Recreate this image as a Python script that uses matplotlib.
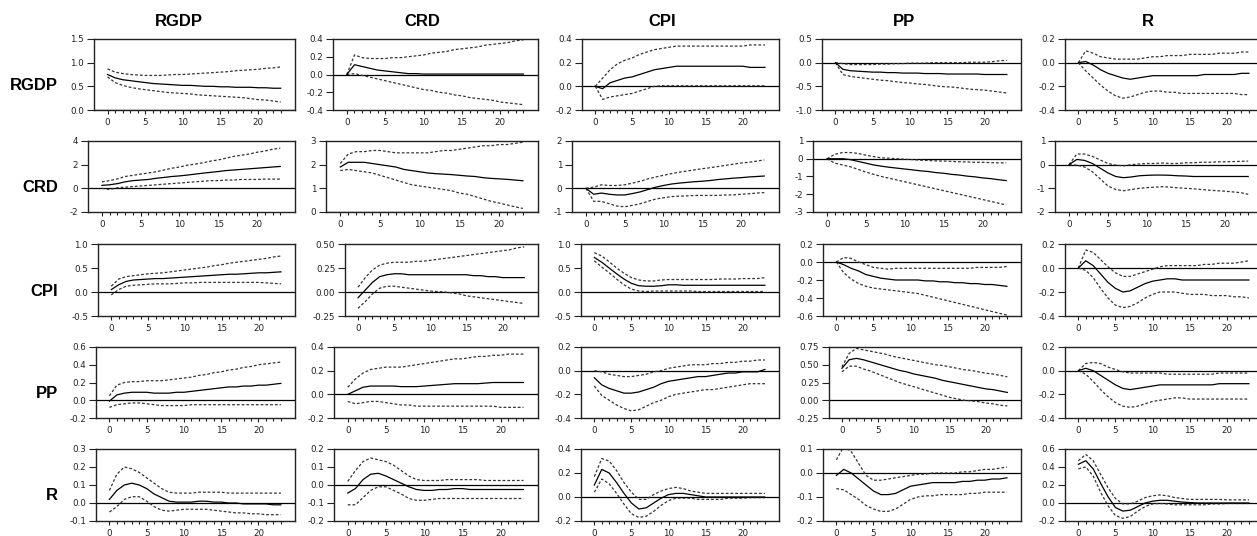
import matplotlib.pyplot as plt

periods = list(range(24))
variables = ["RGDP", "CRD", "CPI", "PP", "R"]

# ---- responses of RGDP ----
rgdp_rgdp = [0.75, 0.68, 0.64, 0.62, 0.60, 0.58, 0.56, 0.55, 0.54, 0.53, 0.52, 0.52,
             0.51, 0.50, 0.50, 0.49, 0.49, 0.48, 0.48, 0.48, 0.47, 0.47, 0.46, 0.46]
rgdp_rgdp_hi = [0.87, 0.80, 0.77, 0.75, 0.74, 0.73, 0.73, 0.73, 0.74, 0.75, 0.75, 0.76,
                0.77, 0.78, 0.79, 0.80, 0.81, 0.83, 0.84, 0.85, 0.86, 0.88, 0.89, 0.91]
rgdp_rgdp_lo = [0.70, 0.58, 0.52, 0.48, 0.45, 0.43, 0.41, 0.39, 0.37, 0.36, 0.35, 0.34,
                0.32, 0.31, 0.30, 0.29, 0.28, 0.27, 0.26, 0.24, 0.22, 0.21, 0.19, 0.17]

rgdp_crd = [0.0, 0.11, 0.09, 0.07, 0.05, 0.04, 0.03, 0.02, 0.01, 0.01, 0.005, 0.005,
            0.005, 0.005, 0.005, 0.005, 0.005, 0.005, 0.005, 0.005, 0.005, 0.005, 0.005, 0.005]
rgdp_crd_hi = [0.0, 0.22, 0.19, 0.18, 0.18, 0.18, 0.19, 0.19, 0.20, 0.21, 0.22, 0.24,
               0.25, 0.26, 0.28, 0.29, 0.30, 0.31, 0.33, 0.34, 0.35, 0.36, 0.38, 0.39]
rgdp_crd_lo = [0.0, 0.01, -0.01, -0.03, -0.05, -0.07, -0.09, -0.11, -0.13, -0.15, -0.17, -0.18,
               -0.20, -0.21, -0.23, -0.24, -0.26, -0.27, -0.28, -0.29, -0.31, -0.32, -0.33, -0.34]

rgdp_cpi = [0.0, -0.02, 0.03, 0.05, 0.07, 0.08, 0.10, 0.12, 0.14, 0.15, 0.16, 0.17,
            0.17, 0.17, 0.17, 0.17, 0.17, 0.17, 0.17, 0.17, 0.17, 0.16, 0.16, 0.16]
rgdp_cpi_hi = [0.0, 0.07, 0.14, 0.19, 0.22, 0.24, 0.27, 0.29, 0.31, 0.32, 0.33, 0.34,
               0.34, 0.34, 0.34, 0.34, 0.34, 0.34, 0.34, 0.34, 0.34, 0.35, 0.35, 0.35]
rgdp_cpi_lo = [0.0, -0.11, -0.09, -0.08, -0.07, -0.06, -0.04, -0.02, 0.0, 0.005, 0.005, 0.005,
               0.005, 0.005, 0.005, 0.005, 0.005, 0.005, 0.005, 0.005, 0.005, 0.005, 0.005, 0.005]

rgdp_pp = [0.0, -0.14, -0.17, -0.18, -0.19, -0.20, -0.20, -0.21, -0.21, -0.22, -0.22, -0.22,
           -0.23, -0.23, -0.23, -0.24, -0.24, -0.24, -0.24, -0.24, -0.25, -0.25, -0.25, -0.25]
rgdp_pp_hi = [0.0, -0.02, -0.04, -0.04, -0.04, -0.04, -0.03, -0.03, -0.02, -0.02, -0.01, -0.01,
              -0.01, 0.0, 0.0, 0.0, 0.0, 0.0, 0.01, 0.01, 0.01, 0.02, 0.04, 0.05]
rgdp_pp_lo = [0.0, -0.25, -0.29, -0.31, -0.33, -0.35, -0.37, -0.38, -0.40, -0.42, -0.43, -0.45,
              -0.46, -0.48, -0.50, -0.51, -0.52, -0.54, -0.56, -0.57, -0.58, -0.60, -0.62, -0.64]

rgdp_r = [0.0, 0.01, -0.02, -0.06, -0.09, -0.11, -0.13, -0.14, -0.13, -0.12, -0.11, -0.11,
          -0.11, -0.11, -0.11, -0.11, -0.11, -0.10, -0.10, -0.10, -0.10, -0.10, -0.09, -0.09]
rgdp_r_hi = [0.0, 0.10, 0.08, 0.05, 0.04, 0.03, 0.03, 0.03, 0.03, 0.04, 0.05, 0.05,
             0.06, 0.06, 0.06, 0.07, 0.07, 0.07, 0.07, 0.08, 0.08, 0.08, 0.09, 0.09]
rgdp_r_lo = [0.0, -0.07, -0.13, -0.19, -0.24, -0.28, -0.30, -0.29, -0.27, -0.25, -0.24, -0.24,
             -0.25, -0.25, -0.26, -0.26, -0.26, -0.26, -0.26, -0.26, -0.26, -0.26, -0.27, -0.27]

# ---- responses of CRD ----
crd_rgdp = [0.25, 0.30, 0.40, 0.55, 0.65, 0.70, 0.75, 0.85, 0.92, 1.00, 1.05, 1.12,
            1.20, 1.28, 1.35, 1.42, 1.50, 1.55, 1.60, 1.65, 1.70, 1.75, 1.80, 1.85]
crd_rgdp_hi = [0.55, 0.65, 0.80, 1.00, 1.10, 1.20, 1.30, 1.40, 1.55, 1.70, 1.80, 1.95,
               2.05, 2.15, 2.30, 2.40, 2.55, 2.70, 2.80, 2.90, 3.05, 3.15, 3.30, 3.40]
crd_rgdp_lo = [0.0, -0.10, 0.05, 0.10, 0.15, 0.20, 0.25, 0.30, 0.35, 0.40, 0.45, 0.50,
               0.55, 0.60, 0.65, 0.65, 0.70, 0.70, 0.75, 0.75, 0.75, 0.78, 0.78, 0.78]

crd_crd = [1.90, 2.10, 2.10, 2.10, 2.05, 2.00, 1.95, 1.90, 1.80, 1.75, 1.70, 1.65,
           1.62, 1.60, 1.58, 1.55, 1.52, 1.50, 1.45, 1.42, 1.40, 1.38, 1.35, 1.32]
crd_crd_hi = [2.05, 2.45, 2.55, 2.55, 2.60, 2.60, 2.55, 2.50, 2.50, 2.50, 2.50, 2.50,
              2.55, 2.60, 2.60, 2.65, 2.70, 2.75, 2.80, 2.80, 2.85, 2.85, 2.90, 2.95]
crd_crd_lo = [1.75, 1.80, 1.75, 1.70, 1.65, 1.55, 1.45, 1.35, 1.25, 1.15, 1.10, 1.05,
              1.00, 0.95, 0.90, 0.80, 0.75, 0.65, 0.55, 0.45, 0.38, 0.30, 0.22, 0.15]

crd_cpi = [0.0, -0.25, -0.20, -0.25, -0.28, -0.28, -0.22, -0.15, -0.05, 0.05, 0.12, 0.18,
           0.22, 0.25, 0.28, 0.30, 0.33, 0.37, 0.40, 0.43, 0.45, 0.48, 0.50, 0.52]
crd_cpi_hi = [0.0, 0.05, 0.15, 0.12, 0.12, 0.15, 0.22, 0.30, 0.40, 0.48, 0.55, 0.62,
              0.68, 0.73, 0.78, 0.83, 0.87, 0.92, 0.97, 1.02, 1.07, 1.10, 1.15, 1.20]
crd_cpi_lo = [0.0, -0.55, -0.55, -0.65, -0.75, -0.78, -0.72, -0.65, -0.55, -0.45, -0.40, -0.35,
              -0.33, -0.32, -0.30, -0.30, -0.30, -0.30, -0.28, -0.28, -0.25, -0.23, -0.20, -0.18]

crd_pp = [0.0, 0.0, 0.0, -0.05, -0.15, -0.25, -0.35, -0.42, -0.48, -0.53, -0.58, -0.63,
          -0.68, -0.72, -0.78, -0.82, -0.88, -0.92, -0.98, -1.02, -1.08, -1.12, -1.18, -1.23]
crd_pp_hi = [0.0, 0.25, 0.35, 0.35, 0.30, 0.20, 0.12, 0.05, 0.03, 0.0, -0.03, -0.05,
             -0.08, -0.10, -0.12, -0.13, -0.15, -0.17, -0.18, -0.20, -0.20, -0.22, -0.23, -0.23]
crd_pp_lo = [0.0, -0.25, -0.35, -0.45, -0.60, -0.75, -0.88, -1.00, -1.10, -1.20, -1.30, -1.40,
             -1.50, -1.60, -1.70, -1.80, -1.90, -2.00, -2.10, -2.20, -2.30, -2.40, -2.50, -2.60]

crd_r = [0.0, 0.22, 0.18, 0.05, -0.15, -0.35, -0.50, -0.55, -0.52, -0.47, -0.45, -0.44,
         -0.44, -0.45, -0.47, -0.48, -0.50, -0.50, -0.50, -0.50, -0.50, -0.50, -0.50, -0.50]
crd_r_hi = [0.0, 0.45, 0.45, 0.35, 0.20, 0.05, -0.02, -0.05, 0.0, 0.03, 0.05, 0.05,
            0.07, 0.05, 0.05, 0.08, 0.08, 0.10, 0.10, 0.12, 0.12, 0.13, 0.14, 0.15]
crd_r_lo = [0.0, -0.02, -0.10, -0.30, -0.60, -0.90, -1.05, -1.10, -1.05, -1.00, -0.97, -0.95,
            -0.93, -0.95, -0.98, -1.00, -1.02, -1.05, -1.08, -1.10, -1.12, -1.15, -1.18, -1.25]

# ---- responses of CPI ----
cpi_rgdp = [0.05, 0.15, 0.22, 0.25, 0.26, 0.27, 0.28, 0.28, 0.29, 0.30, 0.31, 0.32,
            0.33, 0.34, 0.35, 0.36, 0.37, 0.37, 0.38, 0.39, 0.40, 0.40, 0.41, 0.42]
cpi_rgdp_hi = [0.12, 0.27, 0.32, 0.34, 0.36, 0.38, 0.39, 0.40, 0.42, 0.44, 0.46, 0.48,
               0.50, 0.52, 0.55, 0.57, 0.60, 0.62, 0.64, 0.66, 0.68, 0.70, 0.73, 0.75]
cpi_rgdp_lo = [-0.06, 0.05, 0.12, 0.14, 0.15, 0.16, 0.17, 0.17, 0.17, 0.18, 0.19, 0.19,
               0.20, 0.20, 0.20, 0.20, 0.20, 0.20, 0.20, 0.20, 0.20, 0.19, 0.18, 0.17]

cpi_crd = [-0.06, 0.02, 0.10, 0.16, 0.18, 0.19, 0.19, 0.18, 0.18, 0.18, 0.18, 0.18,
           0.18, 0.18, 0.18, 0.18, 0.17, 0.17, 0.16, 0.16, 0.15, 0.15, 0.15, 0.15]
cpi_crd_hi = [0.05, 0.15, 0.23, 0.28, 0.30, 0.31, 0.31, 0.31, 0.32, 0.32, 0.33, 0.34,
              0.35, 0.36, 0.37, 0.38, 0.39, 0.40, 0.41, 0.42, 0.43, 0.44, 0.46, 0.47]
cpi_crd_lo = [-0.17, -0.10, -0.02, 0.04, 0.06, 0.06, 0.05, 0.04, 0.03, 0.02, 0.01, 0.005,
              0.0, -0.01, -0.02, -0.04, -0.05, -0.06, -0.07, -0.08, -0.09, -0.10, -0.11, -0.12]

cpi_cpi = [0.72, 0.62, 0.50, 0.38, 0.27, 0.18, 0.13, 0.12, 0.12, 0.13, 0.15, 0.15,
           0.14, 0.14, 0.14, 0.14, 0.14, 0.14, 0.14, 0.14, 0.14, 0.14, 0.14, 0.14]
cpi_cpi_hi = [0.82, 0.75, 0.63, 0.50, 0.39, 0.30, 0.25, 0.23, 0.23, 0.25, 0.26, 0.26,
              0.26, 0.26, 0.26, 0.26, 0.26, 0.27, 0.27, 0.27, 0.28, 0.28, 0.28, 0.30]
cpi_cpi_lo = [0.65, 0.52, 0.40, 0.27, 0.15, 0.06, 0.02, 0.01, 0.02, 0.02, 0.02, 0.02,
              0.02, 0.02, 0.01, 0.01, 0.01, 0.01, 0.01, 0.01, 0.01, 0.01, 0.01, 0.01]

cpi_pp = [0.0, -0.03, -0.07, -0.10, -0.14, -0.16, -0.18, -0.19, -0.20, -0.20, -0.20, -0.20,
          -0.21, -0.21, -0.22, -0.22, -0.23, -0.23, -0.24, -0.24, -0.25, -0.25, -0.26, -0.27]
cpi_pp_hi = [0.0, 0.05, 0.04, 0.0, -0.03, -0.06, -0.07, -0.08, -0.07, -0.07, -0.07, -0.07,
             -0.07, -0.07, -0.07, -0.07, -0.07, -0.07, -0.07, -0.06, -0.06, -0.06, -0.06, -0.05]
cpi_pp_lo = [0.0, -0.12, -0.19, -0.24, -0.27, -0.29, -0.30, -0.31, -0.32, -0.33, -0.34, -0.35,
             -0.37, -0.39, -0.41, -0.43, -0.45, -0.47, -0.49, -0.51, -0.53, -0.55, -0.57, -0.59]

cpi_r = [0.0, 0.06, 0.02, -0.05, -0.12, -0.17, -0.20, -0.19, -0.16, -0.13, -0.11, -0.10,
         -0.09, -0.09, -0.10, -0.10, -0.10, -0.10, -0.10, -0.10, -0.10, -0.10, -0.10, -0.10]
cpi_r_hi = [0.0, 0.15, 0.13, 0.07, 0.01, -0.04, -0.07, -0.07, -0.05, -0.03, -0.01, 0.01,
            0.02, 0.02, 0.02, 0.02, 0.02, 0.03, 0.03, 0.04, 0.04, 0.04, 0.05, 0.06]
cpi_r_lo = [0.0, -0.02, -0.08, -0.17, -0.25, -0.31, -0.33, -0.32, -0.29, -0.25, -0.22, -0.20,
            -0.20, -0.20, -0.21, -0.22, -0.22, -0.22, -0.23, -0.23, -0.23, -0.24, -0.24, -0.25]

# ---- responses of PP ----
pp_rgdp = [-0.01, 0.06, 0.08, 0.09, 0.09, 0.09, 0.08, 0.08, 0.08, 0.09, 0.09, 0.10,
           0.11, 0.12, 0.13, 0.14, 0.15, 0.15, 0.16, 0.16, 0.17, 0.17, 0.18, 0.19]
pp_rgdp_hi = [0.05, 0.17, 0.20, 0.21, 0.21, 0.22, 0.22, 0.22, 0.23, 0.24, 0.25, 0.26,
              0.28, 0.29, 0.31, 0.32, 0.34, 0.35, 0.37, 0.38, 0.40, 0.41, 0.42, 0.43]
pp_rgdp_lo = [-0.08, -0.05, -0.04, -0.03, -0.03, -0.04, -0.05, -0.06, -0.06, -0.06, -0.06, -0.05,
              -0.05, -0.05, -0.05, -0.05, -0.05, -0.05, -0.05, -0.05, -0.05, -0.05, -0.05, -0.05]

pp_crd = [0.0, 0.03, 0.06, 0.07, 0.07, 0.07, 0.07, 0.065, 0.065, 0.065, 0.07, 0.075,
          0.08, 0.085, 0.09, 0.09, 0.09, 0.09, 0.095, 0.10, 0.10, 0.10, 0.10, 0.10]
pp_crd_hi = [0.06, 0.13, 0.18, 0.21, 0.22, 0.23, 0.23, 0.23, 0.24, 0.25, 0.26, 0.27,
             0.28, 0.29, 0.30, 0.30, 0.31, 0.32, 0.32, 0.33, 0.33, 0.34, 0.34, 0.34]
pp_crd_lo = [-0.06, -0.08, -0.07, -0.06, -0.06, -0.07, -0.08, -0.09, -0.09, -0.10, -0.10, -0.10,
             -0.10, -0.10, -0.10, -0.10, -0.10, -0.10, -0.10, -0.10, -0.11, -0.11, -0.11, -0.11]

pp_cpi = [-0.06, -0.12, -0.15, -0.17, -0.19, -0.19, -0.18, -0.16, -0.14, -0.11, -0.09, -0.08,
          -0.07, -0.06, -0.05, -0.05, -0.04, -0.03, -0.02, -0.02, -0.01, -0.01, -0.01, 0.01]
pp_cpi_hi = [0.0, -0.01, -0.03, -0.04, -0.05, -0.05, -0.04, -0.03, -0.01, 0.0, 0.02, 0.03,
             0.04, 0.05, 0.05, 0.05, 0.06, 0.06, 0.07, 0.07, 0.08, 0.08, 0.09, 0.09]
pp_cpi_lo = [-0.13, -0.21, -0.25, -0.29, -0.32, -0.34, -0.33, -0.30, -0.27, -0.25, -0.22, -0.20,
             -0.19, -0.18, -0.17, -0.16, -0.16, -0.15, -0.14, -0.13, -0.12, -0.11, -0.11, -0.11]

pp_pp = [0.45, 0.57, 0.59, 0.57, 0.54, 0.51, 0.48, 0.45, 0.42, 0.40, 0.37, 0.35,
         0.33, 0.31, 0.28, 0.26, 0.24, 0.22, 0.20, 0.18, 0.16, 0.15, 0.13, 0.11]
pp_pp_hi = [0.47, 0.66, 0.73, 0.71, 0.69, 0.67, 0.65, 0.62, 0.60, 0.58, 0.56, 0.54,
            0.52, 0.50, 0.49, 0.47, 0.45, 0.43, 0.42, 0.40, 0.38, 0.37, 0.35, 0.33]
pp_pp_lo = [0.40, 0.48, 0.48, 0.44, 0.41, 0.37, 0.33, 0.29, 0.25, 0.22, 0.19, 0.16,
            0.13, 0.10, 0.07, 0.04, 0.02, 0.0, -0.01, -0.02, -0.04, -0.05, -0.07, -0.08]

pp_r = [0.0, 0.02, 0.0, -0.04, -0.08, -0.12, -0.15, -0.16, -0.15, -0.14, -0.13, -0.12,
        -0.12, -0.12, -0.12, -0.12, -0.12, -0.12, -0.12, -0.11, -0.11, -0.11, -0.11, -0.11]
pp_r_hi = [0.0, 0.06, 0.07, 0.06, 0.03, 0.01, -0.01, -0.02, -0.02, -0.02, -0.02, -0.02,
           -0.03, -0.03, -0.03, -0.03, -0.03, -0.03, -0.03, -0.02, -0.02, -0.02, -0.02, -0.02]
pp_r_lo = [0.0, -0.03, -0.09, -0.16, -0.22, -0.27, -0.30, -0.31, -0.30, -0.28, -0.26, -0.25,
           -0.24, -0.23, -0.23, -0.24, -0.24, -0.24, -0.24, -0.24, -0.24, -0.24, -0.24, -0.24]

# ---- responses of R ----
r_rgdp = [0.02, 0.07, 0.10, 0.11, 0.10, 0.08, 0.05, 0.03, 0.01, 0.005, 0.005, 0.005,
          0.01, 0.01, 0.005, 0.005, 0.0, 0.0, -0.005, -0.005, -0.005, -0.005, -0.01, -0.01]
r_rgdp_hi = [0.07, 0.16, 0.20, 0.19, 0.17, 0.14, 0.11, 0.08, 0.06, 0.055, 0.055, 0.055,
             0.06, 0.06, 0.06, 0.06, 0.055, 0.055, 0.055, 0.055, 0.055, 0.055, 0.055, 0.055]
r_rgdp_lo = [-0.05, -0.02, 0.02, 0.035, 0.035, 0.01, -0.02, -0.04, -0.045, -0.04, -0.035, -0.035,
             -0.035, -0.035, -0.04, -0.045, -0.05, -0.055, -0.055, -0.06, -0.06, -0.065, -0.065, -0.065]

r_crd = [-0.045, -0.02, 0.03, 0.06, 0.065, 0.05, 0.03, 0.01, -0.01, -0.025, -0.03, -0.03,
         -0.025, -0.025, -0.02, -0.02, -0.025, -0.025, -0.025, -0.025, -0.025, -0.025, -0.025, -0.025]
r_crd_hi = [0.02, 0.08, 0.13, 0.15, 0.14, 0.13, 0.11, 0.08, 0.05, 0.03, 0.025, 0.025,
            0.025, 0.03, 0.03, 0.03, 0.03, 0.03, 0.025, 0.025, 0.025, 0.025, 0.025, 0.025]
r_crd_lo = [-0.11, -0.11, -0.07, -0.03, -0.01, -0.01, -0.03, -0.05, -0.075, -0.085, -0.085, -0.08,
            -0.075, -0.075, -0.075, -0.075, -0.075, -0.075, -0.075, -0.075, -0.075, -0.075, -0.075, -0.075]

r_cpi = [0.10, 0.23, 0.20, 0.12, 0.03, -0.05, -0.10, -0.09, -0.05, -0.01, 0.02, 0.03,
         0.03, 0.02, 0.01, 0.0, 0.0, 0.0, 0.0, 0.0, 0.0, 0.0, 0.0, 0.0]
r_cpi_hi = [0.17, 0.32, 0.30, 0.22, 0.12, 0.04, -0.02, -0.02, 0.02, 0.05, 0.07, 0.08,
            0.07, 0.05, 0.04, 0.03, 0.03, 0.03, 0.03, 0.03, 0.03, 0.03, 0.03, 0.03]
r_cpi_lo = [0.04, 0.15, 0.11, 0.03, -0.06, -0.14, -0.17, -0.16, -0.12, -0.07, -0.03, -0.01,
            -0.01, -0.01, -0.02, -0.02, -0.02, -0.02, -0.01, -0.01, -0.01, -0.005, -0.005, -0.005]

r_pp = [-0.01, 0.015, 0.0, -0.025, -0.05, -0.075, -0.09, -0.09, -0.085, -0.07, -0.055, -0.05,
        -0.045, -0.04, -0.04, -0.04, -0.04, -0.035, -0.035, -0.03, -0.03, -0.025, -0.025, -0.02]
r_pp_hi = [0.055, 0.11, 0.09, 0.04, -0.01, -0.03, -0.03, -0.025, -0.02, -0.015, -0.01, -0.005,
           -0.005, 0.0, 0.0, 0.0, 0.0, 0.005, 0.005, 0.01, 0.015, 0.015, 0.02, 0.025]
r_pp_lo = [-0.065, -0.07, -0.09, -0.11, -0.135, -0.15, -0.16, -0.16, -0.15, -0.13, -0.11, -0.10,
           -0.095, -0.095, -0.09, -0.09, -0.09, -0.09, -0.085, -0.085, -0.08, -0.08, -0.08, -0.08]

r_r = [0.43, 0.47, 0.38, 0.22, 0.07, -0.05, -0.09, -0.08, -0.04, 0.0, 0.02, 0.03,
       0.03, 0.02, 0.01, 0.005, 0.0, 0.0, 0.0, 0.0, 0.0, 0.0, 0.0, 0.0]
r_r_hi = [0.47, 0.54, 0.47, 0.32, 0.17, 0.05, -0.01, -0.01, 0.02, 0.06, 0.08, 0.09,
          0.08, 0.06, 0.05, 0.04, 0.04, 0.04, 0.04, 0.04, 0.035, 0.035, 0.035, 0.035]
r_r_lo = [0.38, 0.40, 0.30, 0.12, -0.03, -0.14, -0.17, -0.15, -0.09, -0.04, -0.01, -0.005,
          -0.01, -0.02, -0.02, -0.02, -0.02, -0.02, -0.01, -0.01, -0.005, -0.005, -0.005, -0.005]

# y tick values per panel (row = responding variable)
rgdp_yticks = [[0.0, 0.5, 1.0, 1.5], [-0.4, -0.2, 0.0, 0.2, 0.4], [-0.2, 0.0, 0.2, 0.4],
               [-1.0, -0.5, 0.0, 0.5], [-0.4, -0.2, 0.0, 0.2]]
crd_yticks = [[-2, 0, 2, 4], [0, 1, 2, 3], [-1, 0, 1, 2], [-3, -2, -1, 0, 1], [-2, -1, 0, 1]]
cpi_yticks = [[-0.5, 0.0, 0.5, 1.0], [-0.25, 0.0, 0.25, 0.50], [-0.5, 0.0, 0.5, 1.0],
              [-0.6, -0.4, -0.2, 0.0, 0.2], [-0.4, -0.2, 0.0, 0.2]]
pp_yticks = [[-0.2, 0.0, 0.2, 0.4, 0.6], [-0.2, 0.0, 0.2, 0.4], [-0.4, -0.2, 0.0, 0.2],
             [-0.25, 0.0, 0.25, 0.50, 0.75], [-0.4, -0.2, 0.0, 0.2]]
r_yticks = [[-0.1, 0.0, 0.1, 0.2, 0.3], [-0.2, -0.1, 0.0, 0.1, 0.2], [-0.2, 0.0, 0.2, 0.4],
            [-0.2, -0.1, 0.0, 0.1], [-0.2, 0.0, 0.2, 0.4, 0.6]]

rgdp_decimals = [1, 1, 1, 1, 1]
crd_decimals = [0, 0, 0, 0, 0]
cpi_decimals = [1, 2, 1, 1, 1]
pp_decimals = [1, 1, 1, 2, 1]
r_decimals = [1, 1, 1, 1, 1]

grid = [
    [(rgdp_rgdp, rgdp_rgdp_hi, rgdp_rgdp_lo), (rgdp_crd, rgdp_crd_hi, rgdp_crd_lo),
     (rgdp_cpi, rgdp_cpi_hi, rgdp_cpi_lo), (rgdp_pp, rgdp_pp_hi, rgdp_pp_lo),
     (rgdp_r, rgdp_r_hi, rgdp_r_lo)],
    [(crd_rgdp, crd_rgdp_hi, crd_rgdp_lo), (crd_crd, crd_crd_hi, crd_crd_lo),
     (crd_cpi, crd_cpi_hi, crd_cpi_lo), (crd_pp, crd_pp_hi, crd_pp_lo),
     (crd_r, crd_r_hi, crd_r_lo)],
    [(cpi_rgdp, cpi_rgdp_hi, cpi_rgdp_lo), (cpi_crd, cpi_crd_hi, cpi_crd_lo),
     (cpi_cpi, cpi_cpi_hi, cpi_cpi_lo), (cpi_pp, cpi_pp_hi, cpi_pp_lo),
     (cpi_r, cpi_r_hi, cpi_r_lo)],
    [(pp_rgdp, pp_rgdp_hi, pp_rgdp_lo), (pp_crd, pp_crd_hi, pp_crd_lo),
     (pp_cpi, pp_cpi_hi, pp_cpi_lo), (pp_pp, pp_pp_hi, pp_pp_lo),
     (pp_r, pp_r_hi, pp_r_lo)],
    [(r_rgdp, r_rgdp_hi, r_rgdp_lo), (r_crd, r_crd_hi, r_crd_lo),
     (r_cpi, r_cpi_hi, r_cpi_lo), (r_pp, r_pp_hi, r_pp_lo),
     (r_r, r_r_hi, r_r_lo)],
]
yticks_grid = [rgdp_yticks, crd_yticks, cpi_yticks, pp_yticks, r_yticks]
decimals_grid = [rgdp_decimals, crd_decimals, cpi_decimals, pp_decimals, r_decimals]

# layout in pixels of the 1257x536 image
W, H = 1257, 536
col_right = [295, 538, 779, 1021, 1263]
row_top = [39, 141, 244, 347, 449]
row_bottom = [110, 212, 316, 418, 521]
ax_left = [
    [94, 333, 582, 822, 1065],
    [88, 326, 572, 813, 1055],
    [98, 345, 581, 823, 1065],
    [96, 334, 581, 829, 1065],
    [96, 334, 581, 823, 1065],
]
title_x = [179, 422, 662, 904, 1148]

fig = plt.figure(figsize=(W / 100, H / 100), dpi=100)

band_style = (0, (2.2, 1.6))
for i in range(5):
    for j in range(5):
        mid, hi, lo = grid[i][j]
        l, r = ax_left[i][j], col_right[j]
        t, b = row_top[i], row_bottom[i]
        ax = fig.add_axes([l / W, 1 - b / H, (r - l) / W, (b - t) / H])

        ax.axhline(0, color="black", lw=0.9)
        ax.plot(periods, hi, color="#333333", lw=0.9, linestyle=band_style)
        ax.plot(periods, lo, color="#333333", lw=0.9, linestyle=band_style)
        ax.plot(periods, mid, color="black", lw=0.9)

        ticks = yticks_grid[i][j]
        dec = decimals_grid[i][j]
        ax.set_xlim(-1.8, 24.9)
        ax.set_ylim(ticks[0], ticks[-1])
        ax.set_xticks([0, 5, 10, 15, 20])
        ax.set_xticks(periods, minor=True)
        ax.set_yticks(ticks)
        ax.set_yticklabels([f"{v:.{dec}f}" for v in ticks])

        ax.tick_params(axis="x", which="major", length=3, width=0.8, pad=3,
                       labelsize=6.3, colors="#222222")
        ax.tick_params(axis="x", which="minor", length=1.8, width=0.8, colors="#222222")
        ax.tick_params(axis="y", length=5, width=0.8, pad=2, labelsize=6.3,
                       colors="#222222")
        for sp in ax.spines.values():
            sp.set_color("#222222")
            sp.set_linewidth(1.0)

for j, name in enumerate(variables):
    fig.text(title_x[j] / W, 1 - 22 / H, name, ha="center", va="center",
             fontsize=12, fontweight="bold", family="Liberation Sans")

for i, name in enumerate(variables):
    yc = (row_top[i] + row_bottom[i]) / 2 + 11
    fig.text(58 / W, 1 - yc / H, name, ha="right", va="center",
             fontsize=12, fontweight="bold", family="Liberation Sans")

fig.savefig("out.png", dpi=100)
